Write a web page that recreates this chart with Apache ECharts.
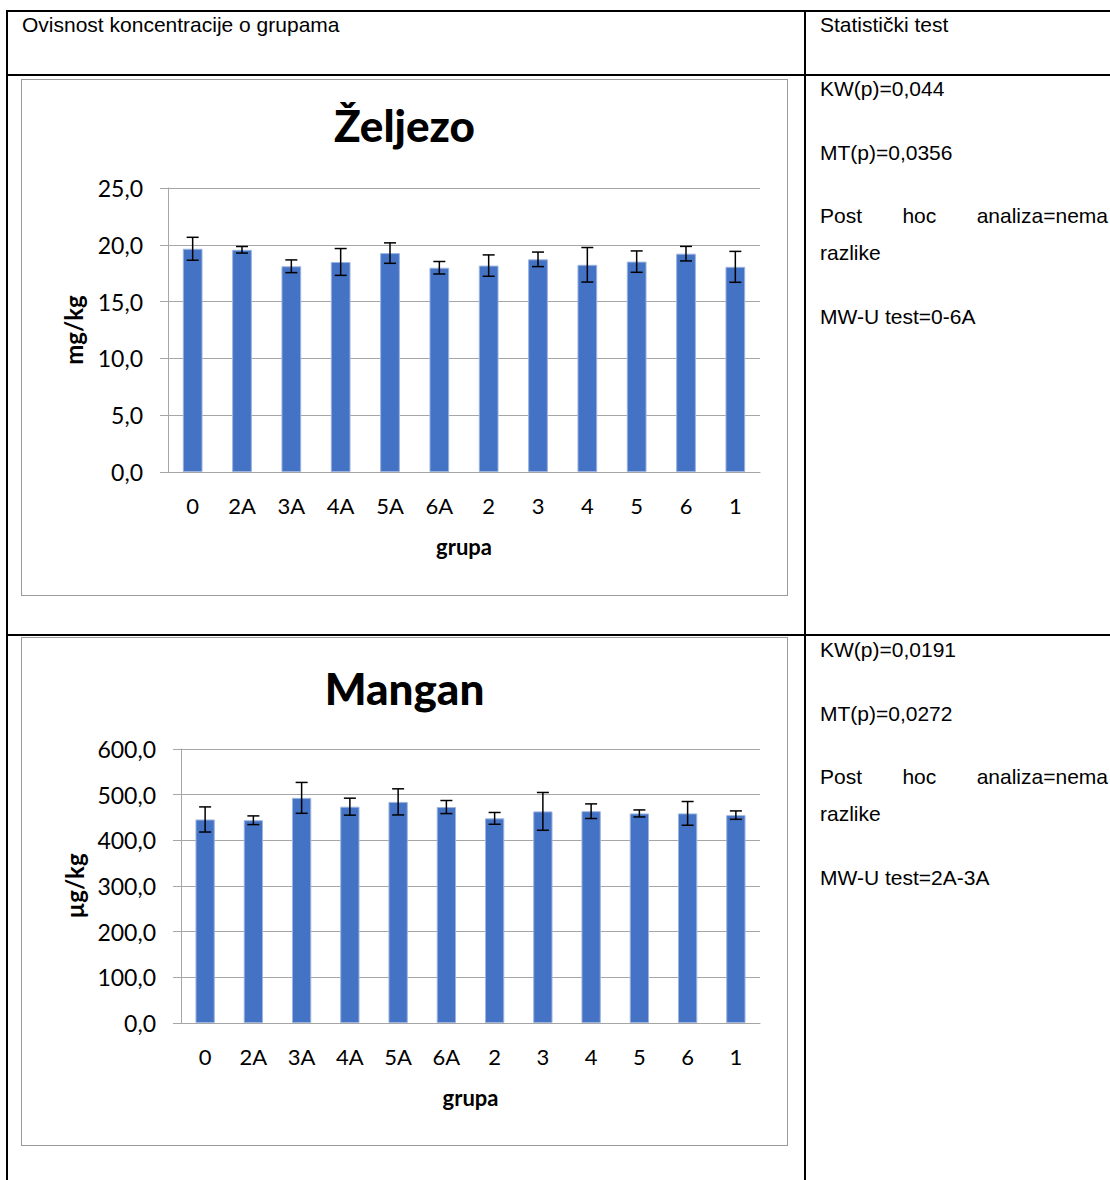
<!DOCTYPE html>
<html>
<head>
<meta charset="utf-8">
<title>Ovisnost koncentracije o grupama</title>
<script src="https://cdn.jsdelivr.net/npm/echarts@6/dist/echarts.min.js"></script>
<style>
  html, body { margin: 0; padding: 0; background: #fff; }
  body { width: 1110px; height: 1180px; position: relative; overflow: hidden;
         font-family: "Liberation Sans", Arial, sans-serif; color: #000; }
  .hl { position: absolute; height: 2px; background: #000; }
  .vl { position: absolute; width: 2px; background: #000; }
  .t  { position: absolute; font-size: 21px; line-height: 21px; white-space: nowrap; }
  .just { position: absolute; left: 820px; width: 288px; font-size: 21px; line-height: 21px;
          display: flex; justify-content: space-between; white-space: nowrap; }
  .chart { position: absolute; left: 21px; width: 767px; box-sizing: border-box;
           border: 1px solid #9a9a9a; background: #fff; }
</style>
</head>
<body>
<!-- table grid -->
<div class="hl" style="left:6px;top:10px;width:1104px"></div>
<div class="hl" style="left:6px;top:74px;width:1104px"></div>
<div class="hl" style="left:6px;top:634px;width:1104px"></div>
<div class="vl" style="left:6px;top:10px;height:1170px"></div>
<div class="vl" style="left:804px;top:10px;height:1170px"></div>

<!-- header row -->
<div class="t" style="left:22px;top:14px">Ovisnost koncentracije o grupama</div>
<div class="t" style="left:820px;top:14px">Statistički test</div>

<!-- statistics, iron -->
<div class="t" style="left:820px;top:78px">KW(p)=0,044</div>
<div class="t" style="left:820px;top:142px">MT(p)=0,0356</div>
<div class="just" style="top:205px"><span>Post</span><span>hoc</span><span>analiza=nema</span></div>
<div class="t" style="left:820px;top:242px">razlike</div>
<div class="t" style="left:820px;top:306px">MW-U test=0-6A</div>

<!-- statistics, manganese -->
<div class="t" style="left:820px;top:639px">KW(p)=0,0191</div>
<div class="t" style="left:820px;top:703px">MT(p)=0,0272</div>
<div class="just" style="top:766px"><span>Post</span><span>hoc</span><span>analiza=nema</span></div>
<div class="t" style="left:820px;top:803px">razlike</div>
<div class="t" style="left:820px;top:867px">MW-U test=2A-3A</div>

<div id="fe" class="chart" style="top:79px;height:517px"></div>
<div id="mn" class="chart" style="top:637px;height:509px"></div>

<script>
// group order as plotted
const grupe = ['0', '2A', '3A', '4A', '5A', '6A', '2', '3', '4', '5', '6', '1'];

// iron, mg/kg: mean and standard deviation per group
const zeljezo   = [19.65, 19.56, 18.11, 18.49, 19.27, 17.98, 18.17, 18.72, 18.24, 18.52, 19.22, 18.06];
const zeljezoSD = [1.01, 0.29, 0.56, 1.18, 0.90, 0.55, 0.94, 0.64, 1.52, 0.94, 0.64, 1.36];

// manganese, µg/kg: mean and standard deviation per group
const mangan   = [445.7, 444.0, 493.0, 473.7, 484.2, 472.9, 448.1, 463.4, 463.8, 458.9, 459.0, 455.2];
const manganSD = [27.5, 9.5, 33.8, 18.6, 28.6, 14.3, 12.9, 41.4, 16.0, 7.7, 26.0, 9.2];

// value axis ranges
const zeljezoOs = { min: 0, max: 25, interval: 5 };
const manganOs  = { min: 0, max: 600, interval: 100 };

const BAR = '#4472C4';
const GRID = '#a6a6a6';
const FONT = 'Lato';

function errorBars(values, sd) {
  return {
    type: 'custom',
    z: 10,
    silent: true,
    data: values.map((v, i) => [i, v - sd[i], v + sd[i]]),
    encode: { x: 0, y: [1, 2] },
    renderItem: function (params, api) {
      const i = api.value(0);
      const lo = api.coord([i, api.value(1)]);
      const hi = api.coord([i, api.value(2)]);
      const hw = 6;
      const style = { stroke: '#000', lineWidth: 1.5, fill: null };
      return {
        type: 'group',
        children: [
          { type: 'line', shape: { x1: lo[0], y1: hi[1], x2: lo[0], y2: lo[1] }, style: style },
          { type: 'line', shape: { x1: lo[0] - hw, y1: hi[1], x2: lo[0] + hw, y2: hi[1] }, style: style },
          { type: 'line', shape: { x1: lo[0] - hw, y1: lo[1], x2: lo[0] + hw, y2: lo[1] }, style: style }
        ]
      };
    }
  };
}

function buildOption(cfg) {
  return {
    animation: false,
    backgroundColor: '#fff',
    textStyle: { fontFamily: FONT },
    graphic: [{
      type: 'text',
      left: 'center',
      top: cfg.titleTop,
      style: { text: cfg.title, fontFamily: FONT, fontWeight: 900, fontSize: 44, fill: '#000' }
    }],
    grid: Object.assign({ outerBoundsMode: 'none', containLabel: false }, cfg.grid),
    xAxis: {
      type: 'category',
      data: grupe,
      axisLine: { show: true, lineStyle: { color: GRID, width: 1 } },
      axisTick: { show: false },
      axisLabel: { color: '#000', fontFamily: FONT, fontSize: 22, margin: 22, interval: 0 },
      name: 'grupa',
      nameLocation: 'middle',
      nameGap: 63,
      nameTextStyle: { color: '#000', fontFamily: FONT, fontWeight: 'bold', fontSize: 22 }
    },
    yAxis: {
      type: 'value',
      min: cfg.axis.min,
      max: cfg.axis.max,
      interval: cfg.axis.interval,
      axisLine: { show: true, lineStyle: { color: GRID, width: 1 } },
      axisTick: { show: true, length: 8, lineStyle: { color: GRID, width: 1 } },
      splitLine: { show: true, lineStyle: { color: GRID, width: 1 } },
      axisLabel: {
        color: '#000', fontFamily: FONT, fontSize: 23, margin: 25,
        formatter: v => v.toFixed(1).replace('.', ',')
      },
      name: cfg.unit,
      nameLocation: 'middle',
      nameRotate: 90,
      nameGap: cfg.nameGap,
      nameTextStyle: { color: '#000', fontFamily: FONT, fontWeight: 'bold', fontSize: 24 }
    },
    series: [
      {
        type: 'bar',
        data: cfg.values,
        barWidth: '40%',
        itemStyle: { color: BAR, borderColor: '#9db4de', borderWidth: 1 }
      },
      errorBars(cfg.values, cfg.sd)
    ]
  };
}

const fe = echarts.init(document.getElementById('fe'), null, { renderer: 'svg' });
fe.setOption(buildOption({
  title: 'Željezo', titleTop: 23, unit: 'mg/kg', nameGap: 83,
  values: zeljezo, sd: zeljezoSD, axis: zeljezoOs,
  grid: { left: 146, right: 27, top: 108, bottom: 123 }
}));

const mn = echarts.init(document.getElementById('mn'), null, { renderer: 'svg' });
mn.setOption(buildOption({
  title: 'Mangan', titleTop: 28, unit: 'µg/kg', nameGap: 95,
  values: mangan, sd: manganSD, axis: manganOs,
  grid: { left: 159, right: 27, top: 111, bottom: 122 }
}));
</script>
</body>
</html>
